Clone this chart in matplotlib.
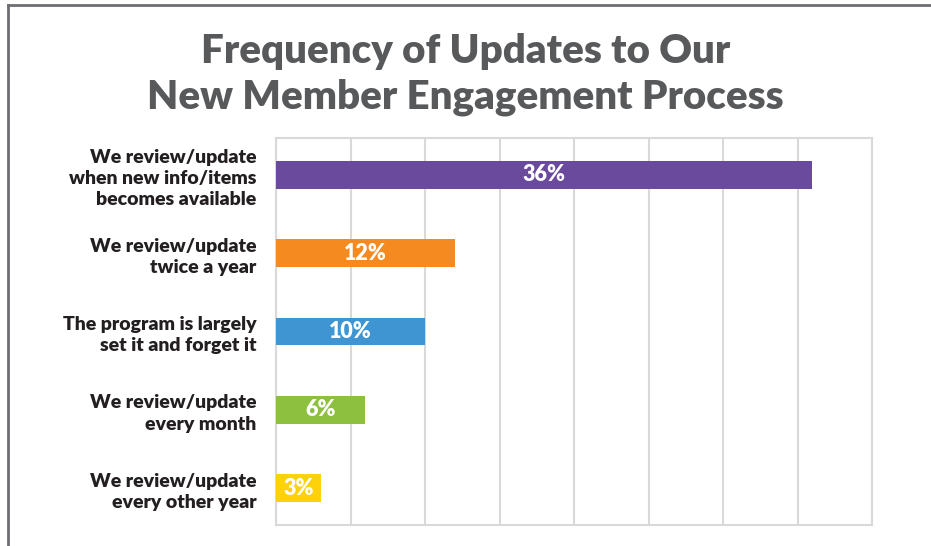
import matplotlib.pyplot as plt
from matplotlib.lines import Line2D

categories = [
    "We review/update\nwhen new info/items\nbecomes available",
    "We review/update\ntwice a year",
    "The program is largely\nset it and forget it",
    "We review/update\nevery month",
    "We review/update\nevery other year",
]
values = [36, 12, 10, 6, 3]
colors = ["#6a4a9c", "#f58a21", "#3e95d1", "#8dc03f", "#fdd20a"]
title = "Frequency of Updates to Our\nNew Member Engagement Process"

plt.rcParams['font.family'] = ['Lato', 'DejaVu Sans']

fig = plt.figure(figsize=(9.31, 5.46), dpi=100)
ax = fig.add_axes([276 / 931, 21 / 546, 596 / 931, 387 / 546])

ypos = list(range(len(values)))
ax.barh(ypos, values, height=0.35, color=colors, zorder=3)
for y, v in zip(ypos, values):
    ax.text(v / 2, y, f"{v}%", ha='center', va='center', color='white',
            fontsize=15.5, fontweight='heavy', zorder=4)

ax.set_xlim(0, 40)
ax.set_ylim(4.47, -0.47)
ax.set_xticks(range(0, 41, 5))
ax.set_xticklabels([])
ax.grid(axis='x', color='#d9d9d9', linewidth=1.5, zorder=0)
ax.tick_params(length=0)
ax.set_yticks(ypos)
ax.set_yticklabels(categories, fontsize=14, fontweight='heavy', color='#231f20',
                   linespacing=1.3)
ax.tick_params(axis='y', pad=14)
for s in ax.spines.values():
    s.set_color('#d9d9d9')
    s.set_linewidth(1.5)

fig.text(0.5, 0.864, title, ha='center', va='center', fontsize=29,
         fontweight='heavy', color='#58595b', linespacing=1.3)

# outer frame (left and top edges visible)
fig.add_artist(Line2D([8 / 931, 8 / 931], [0, 1 - 5 / 546], transform=fig.transFigure,
                      color='#6d6e71', linewidth=2))
fig.add_artist(Line2D([8 / 931, 1], [1 - 5 / 546, 1 - 5 / 546], transform=fig.transFigure,
                      color='#6d6e71', linewidth=2))

fig.savefig('out.png', dpi=100)
